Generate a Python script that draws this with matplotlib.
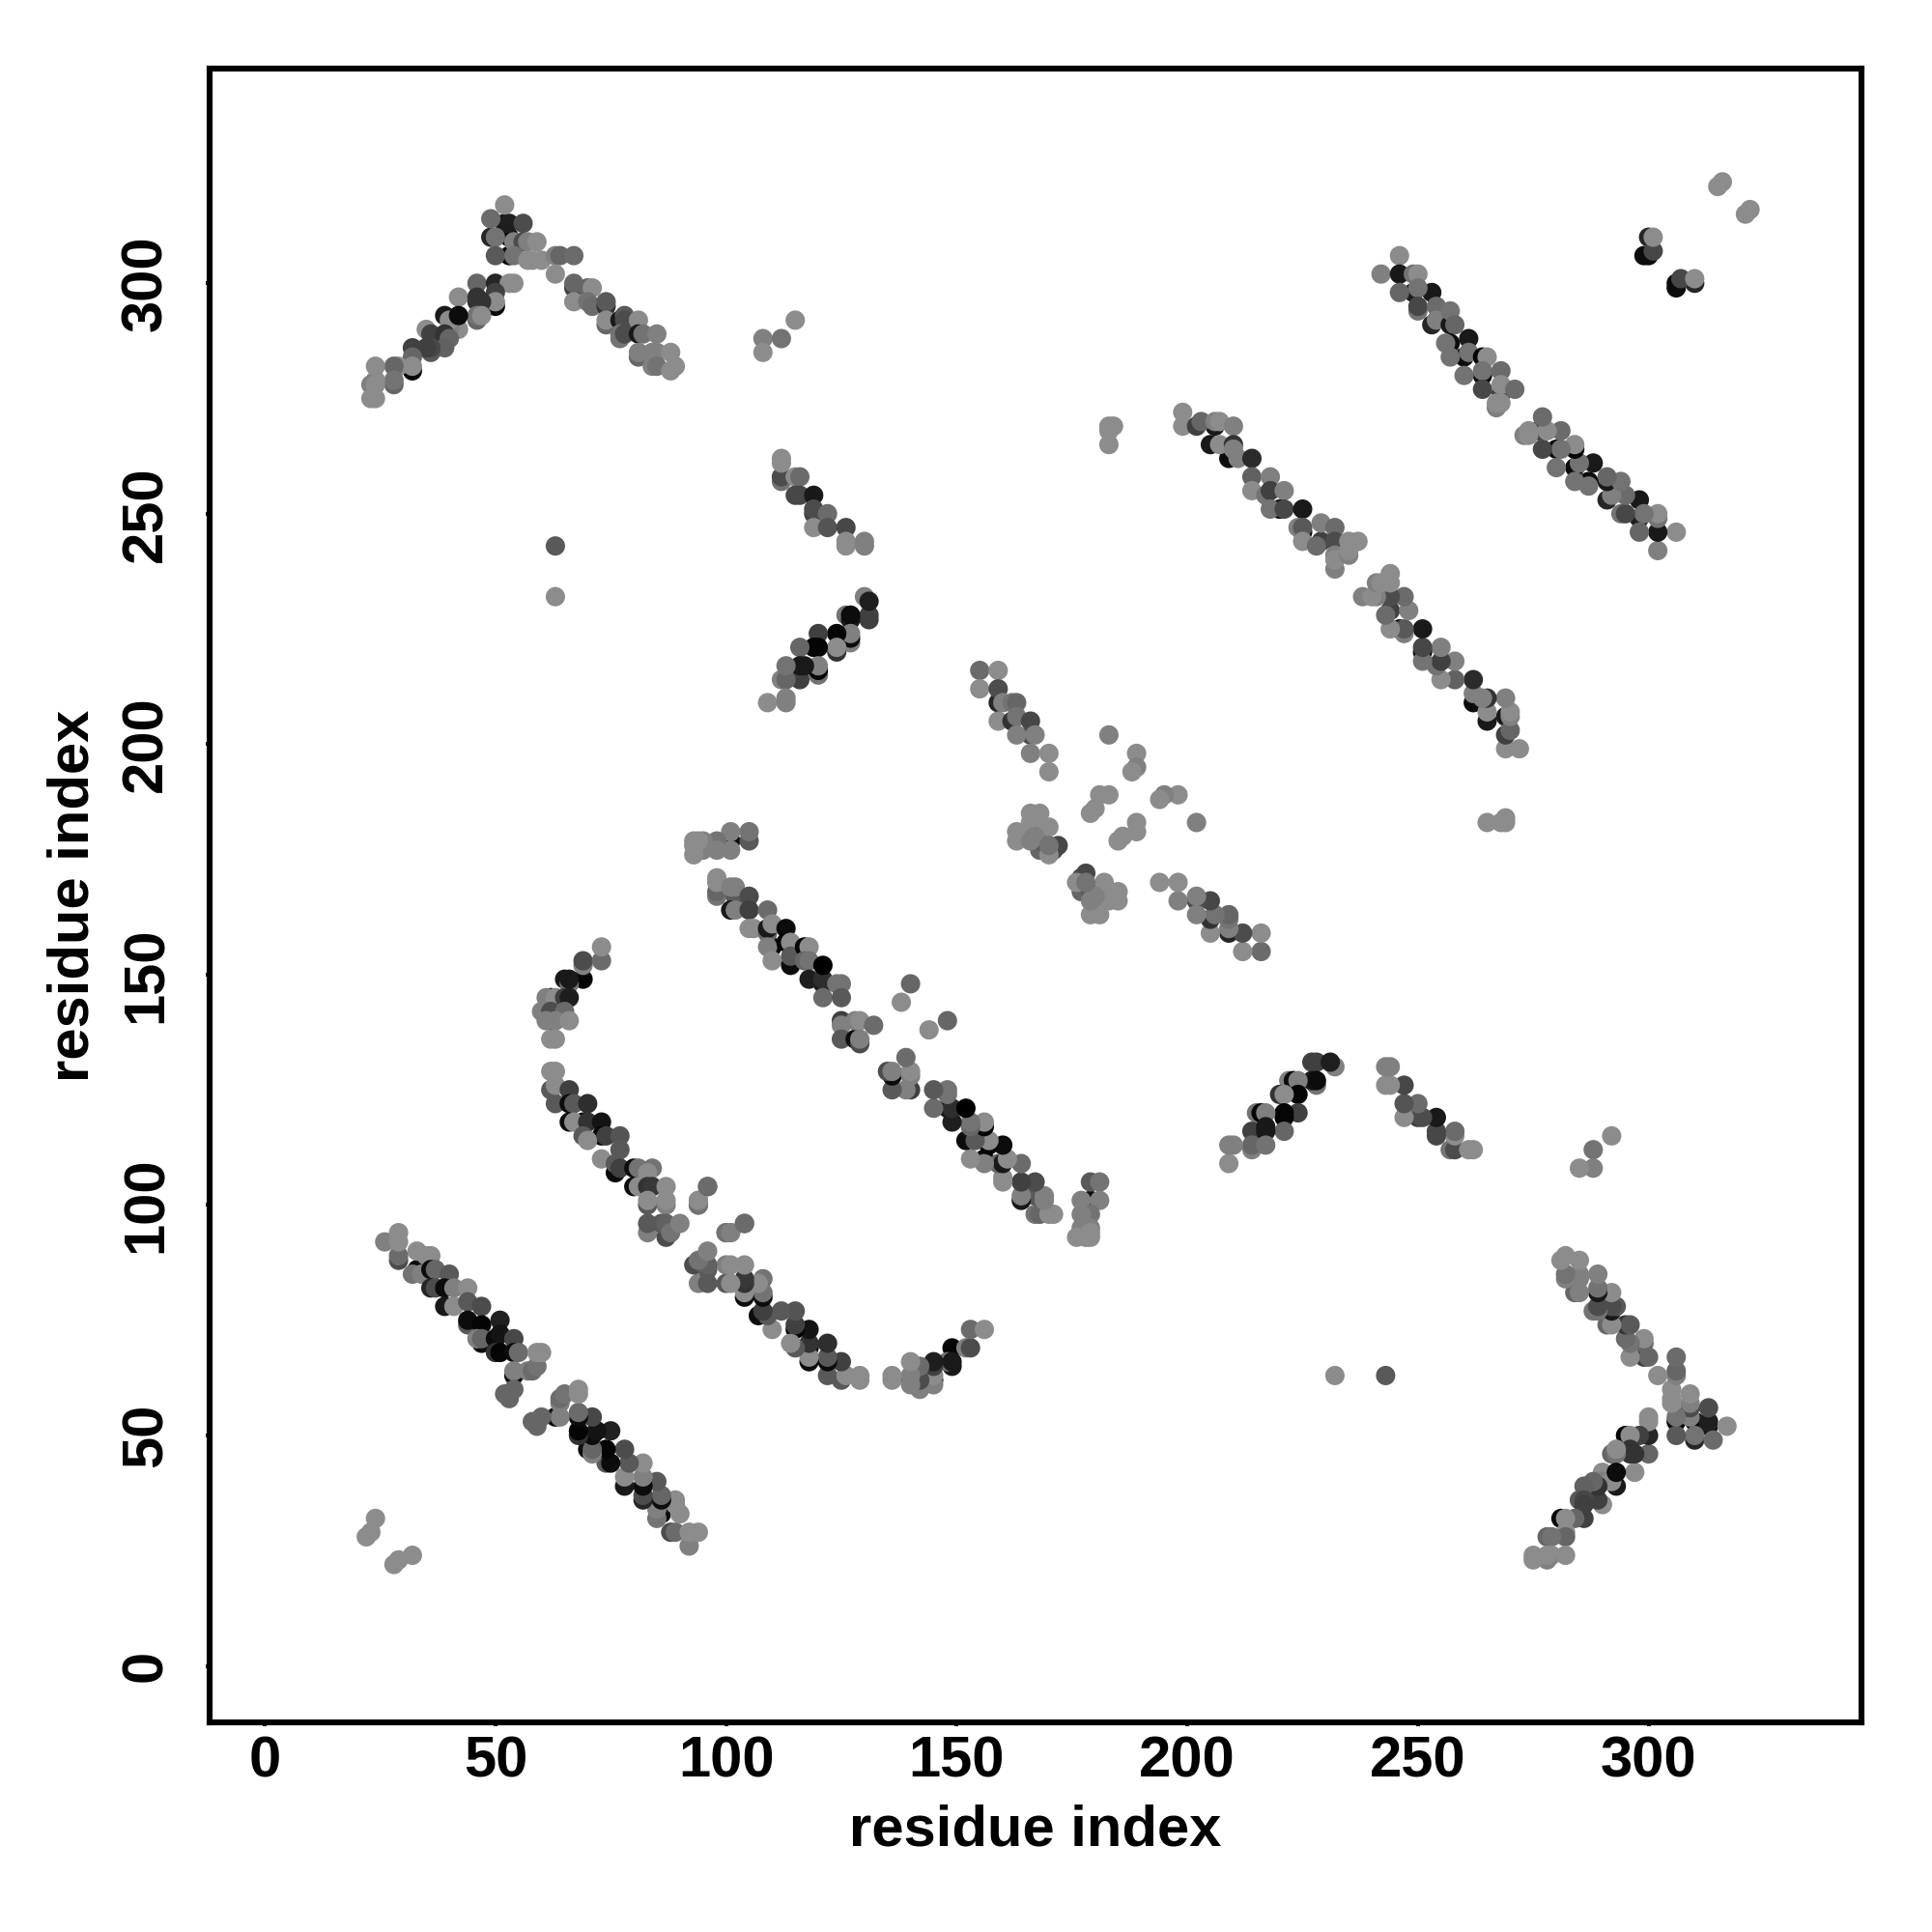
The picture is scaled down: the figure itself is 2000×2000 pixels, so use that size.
import numpy as np
import matplotlib
matplotlib.use("Agg")
import matplotlib.pyplot as plt

plt.rcParams["font.family"] = ["Liberation Sans", "DejaVu Sans"]

# contacts as (residue i, residue j, gray level), upper triangle only, the map is symmetric
corner = [(22,28,.55),(23,29,.55),(24,32,.55),(63,243,.35),(63,232,.55),
          (183,269,.55),(184,269,.55),(183,268,.55),(183,265,.55),
          (315,321,.55),(316,322,.55)]

arm_left = [(32,281,.03),(50,295,.03),(53,306,.03),(53,310,.03),
            (52,313,.1),(53,313,.12),(49,310,.15),(49,314,.42),(52,317,.55),(56,313,.3),
            (50,310,.45),(54,309,.5),(56,309,.3),(57,309,.5),(59,309,.55),
            (50,306,.35),(54,306,.45),(57,305,.55),(58,305,.55),(60,305,.55),
            (63,306,.5),(64,306,.4),(67,306,.42),(63,302,.55),
            (46,300,.4),(50,300,.15),(53,300,.55),(54,300,.55),
            (42,297,.55),(46,297,.2),(50,298,.25),(50,296,.55),(46,296,.2),(47,296,.2),
            (46,292,.4),(46,293,.45),(47,293,.55),(39,293,.1),
            (42,290,.55),(40,290,.5),(40,292,.55),(42,293,.05),
            (35,290,.55),(36,289,.25),(39,289,.2),(40,288,.4),
            (39,286,.38),(36,285,.35),(36,286,.28),(35,286,.25),
            (32,286,.25),(32,284,.4),(32,282,.55),
            (29,282,.55),(28,282,.4),(28,278,.4),(28,279,.45),
            (24,282,.55),(24,279,.55),(23,278,.5),(24,278,.55),(23,275,.55),(24,275,.55)]

arm_right = [(67,299,.25),(67,300,.4),(70,299,.4),(71,299,.55),
             (67,296,.55),(70,296,.45),(71,295,.42),
             (74,295,.2),(74,296,.35),(74,291,.4),(74,292,.55),
             (77,292,.1),(78,293,.35),(78,292,.3),(81,292,.55),
             (77,288,.45),(77,289,.45),(78,289,.3),
             (81,289,.1),(82,289,.45),(85,289,.5),
             (81,284,.4),(81,285,.5),(84,285,.5),(85,285,.5),(88,285,.55),
             (84,282,.5),(85,282,.45),(88,281,.55),(89,282,.55)]

patch_a = [(108,288,.5),(112,288,.45),(108,285,.55),(115,292,.55),
           (112,257,.45),(112,258,.3),(112,261,.55),(112,262,.55),
           (115,258,.55),(116,258,.42),(115,254,.28),(116,254,.28),(119,254,.1),
           (119,250,.25),(119,251,.3),(122,250,.42),(119,247,.55),(122,247,.33),(126,247,.28),
           (126,243,.55),(126,244,.55),(130,243,.5),(130,244,.5)]

patch_b = [(130,232,.5),(131,227,.25),(131,228,.25),(131,231,.12),
           (126,228,.45),(127,227,.1),(127,228,.05),
           (127,222,.5),(127,223,.05),(127,224,.5),(124,220,.2),(124,224,.02),(124,221,.55),
           (120,224,.25),(119,221,.02),(120,221,.02),(120,215,.45),(120,216,.02),(120,217,.5),
           (116,221,.4),(116,214,.25),(116,217,.1),(117,217,.1),
           (112,214,.5),(113,214,.4),(113,217,.45),
           (109,209,.55),(113,209,.5),(113,210,.5)]

strip_a = [(101,179,.05),(105,179,.35),(105,181,.45),(101,181,.5),(101,177,.5),
           (98,179,.45),(98,177,.5),(95,179,.5),(95,177,.5),(94,179,.55),
           (93,176,.55),(93,178,.55),(93,179,.55),
           (98,167,.45),(98,168,.4),(98,170,.55),(98,171,.55),
           (102,167,.35),(101,169,.5),(102,169,.5),(105,167,.3),
           (101,164,.1),(102,164,.5),(105,164,.25),(105,160,.55),(106,160,.55),
           (110,156,.02),(109,159,.4),(109,160,.1),(109,164,.42),(110,161,.55),
           (109,156,.5),(110,153,.55),(113,160,.05),
           (114,152,.05),(113,157,.02),(114,157,.55),(114,154,.35),
           (117,156,.02),(118,156,.55),(117,153,.4),(118,153,.45),
           (121,148,.1),(118,149,.12),(121,149,.18),(121,152,.0),(121,145,.42),
           (124,148,.45),(125,148,.45),(125,145,.35),
           (125,140,.25),(125,139,.5),(125,136,.35),(128,136,.05),
           (128,140,.5),(129,140,.55),(132,139,.42),
           (129,135,.3),(129,136,.5),
           (140,148,.4),(138,144,.55),]

strip_b = [(159,209,.15),(155,216,.42),(159,216,.55),(155,212,.55),(159,212,.3),
           (160,209,.5),(162,209,.45),(163,209,.4),
           (159,205,.55),(162,205,.2),(163,206,.45),(166,205,.28),
           (166,202,.3),(163,202,.5),(167,202,.5),
           (166,198,.5),(170,198,.55),(170,194,.55),
           (168,177,.4),(168,179,.35),(166,181,.4),(171,177,.3),(172,178,.28),
           (163,181,.55),(163,179,.55),(166,185,.55),(168,185,.55),(166,183,.55),
           (168,183,.55),(170,182,.55),(166,179,.5),(167,180,.5),(170,176,.55),(170,178,.45),
           (183,202,.5),(189,198,.55),(189,195,.5),(188,194,.55),
           (181,189,.55),(183,189,.55),(180,186,.55),(179,185,.55)]

strip_c = [(206,269,.1),(205,265,.1),(209,262,.05),
           (199,272,.55),(199,269,.55),(202,269,.25),(203,270,.4),
           (206,270,.5),(207,270,.55),(210,269,.5),
           (207,265,.55),(210,265,.2),(210,264,.5),(211,262,.5),
           (214,262,.17),(214,258,.38),(218,258,.5),(214,255,.55),
           (217,254,.45),(218,255,.25),(221,255,.5),
           (220,251,.05),(218,251,.45),(221,251,.28),(225,251,.1),
           (225,246,.05),(224,247,.5),(225,247,.35),(225,244,.55),
           (229,244,.25),(228,243,.42),(229,248,.5),(232,247,.42),
           (232,244,.3),(232,238,.5),(232,241,.5),(232,240,.55),
           (235,241,.5),(235,242,.55),(235,244,.55),(237,244,.55)]

strip_d = [(299,306,.05),(300,306,.05),(300,310,.15),(301,307,.28),(301,310,.55),
           (246,306,.55),(242,302,.5),(246,302,.1),(249,302,.45),(250,302,.55),
           (249,298,.12),(246,298,.4),(253,298,.1),(250,299,.45),
           (250,294,.45),(250,295,.28),(253,291,.15),(254,295,.42),(254,292,.5),
           (257,291,.1),(257,294,.45),(258,291,.4),
           (257,287,.05),(256,287,.45),(261,288,.1),(260,284,.05),(257,284,.45),
           (261,285,.45),(264,284,.02),(265,284,.55),
           (264,280,.05),(260,280,.45),(264,281,.45),(268,281,.42),
           (264,277,.28),(268,276,.25),(268,278,.55),(271,277,.42),
           (267,273,.5),(268,274,.55),(267,274,.55)]

turn_a = [(69,149,.02),(69,152,.5),(69,153,.3),(73,153,.42),(73,156,.55),
          (65,149,.1),(66,148,.45),(66,149,.1),
          (62,145,.02),(61,145,.5),(63,145,.55),(65,145,.25),(66,145,.12),
          (62,140,.02),(60,142,.5),(62,142,.3),(65,142,.42),(61,140,.5),(63,140,.5),(66,140,.55),
          (62,136,.55),(63,136,.55)]

strip_e = [(62,125,.35),(63,122,.35),(62,129,.55),(63,129,.55),(63,126,.55),
           (66,125,.25),(66,122,.05),(67,122,.35),(70,122,.18),
           (66,118,.05),(69,118,.02),(67,118,.55),(70,118,.2),(73,118,.08),
           (73,115,.02),(69,115,.35),(70,114,.55),(74,115,.25),(77,115,.33),
           (73,110,.55),(76,107,.05),(76,109,.35),(77,112,.35),(77,108,.25),
           (80,108,.05),(81,108,.45),(84,108,.45),(83,107,.55),
           (80,104,.05),(81,104,.55),(83,104,.2),(84,104,.22),(87,104,.55),
           (83,100,.35),(83,101,.55),(87,100,.5),(87,101,.55),
           (94,100,.45),(94,101,.5),(96,104,.42),
           (83,94,.5),(83,96,.35),(87,93,.3),(86,96,.35),(87,96,.38),(88,94,.45),(90,96,.5),
           (100,94,.45),(101,94,.55),(104,96,.42)]

strip_f = [(33,86,.05),(29,88,.3),(29,89,.42),(26,92,.5),(29,92,.55),(29,94,.55),
           (33,90,.55),(32,85,.45),(34,85,.5),(35,89,.55),(36,89,.55),
           (36,86,.05),(37,86,.4),(40,85,.35),(36,82,.15),(37,82,.3),
           (39,82,.05),(41,82,.5),(44,82,.55),
           (39,78,.1),(41,78,.55),(44,79,.35),(47,78,.3),
           (44,74,.35),(44,75,.05),(47,74,.02),(51,75,.13),
           (47,70,.05),(46,71,.5),(47,71,.4),(50,71,.05),(51,72,.08),(54,71,.28),
           (50,68,.2),(51,68,.02),(54,68,.05),(55,68,.42),
           (54,63,.05),(54,64,.5),(57,64,.5),(58,64,.42),(59,65,.45),(59,68,.55),(60,68,.55),
           (52,59,.4),(54,60,.4),(53,58,.4)]

bands = [corner, arm_left, arm_right, patch_a, patch_b, strip_a, strip_b,
         strip_c, strip_d, turn_a, strip_e, strip_f]

x_ticks = [0, 50, 100, 150, 200, 250, 300]

fig = plt.figure(figsize=(10, 10), dpi=200)
ax = fig.add_axes([0.1084, 0.1084, 0.8552, 0.8559])

for band in bands:
    i, j, gray = (np.array(col) for col in zip(*band))
    ax.scatter(i, j, c=gray, cmap="gray", vmin=0, vmax=1, s=52, linewidths=0, zorder=3)
    ax.scatter(j, i, c=gray, cmap="gray", vmin=0, vmax=1, s=52, linewidths=0, zorder=3)

ax.set_xlim(-12, 346.2)
ax.set_ylim(-12.3, 346.5)
ax.set_xticks(x_ticks)
ax.set_yticks(x_ticks)
ax.tick_params(axis="x", length=1.5, width=1.4, labelsize=21.5, pad=3.2)
ax.tick_params(axis="y", length=1.5, width=1.4, labelsize=21.5, pad=12)
for lab in ax.get_xticklabels() + ax.get_yticklabels():
    lab.set_fontweight("bold")
for lab in ax.get_yticklabels():
    lab.set_rotation(90)
    lab.set_va("center")
for s in ax.spines.values():
    s.set_linewidth(2.2)

ax.set_xlabel("residue index", fontsize=21.5, fontweight="bold", labelpad=6)
ax.set_ylabel("residue index", fontsize=21.5, fontweight="bold", labelpad=7.5)

fig.savefig("out.png", dpi=200)
